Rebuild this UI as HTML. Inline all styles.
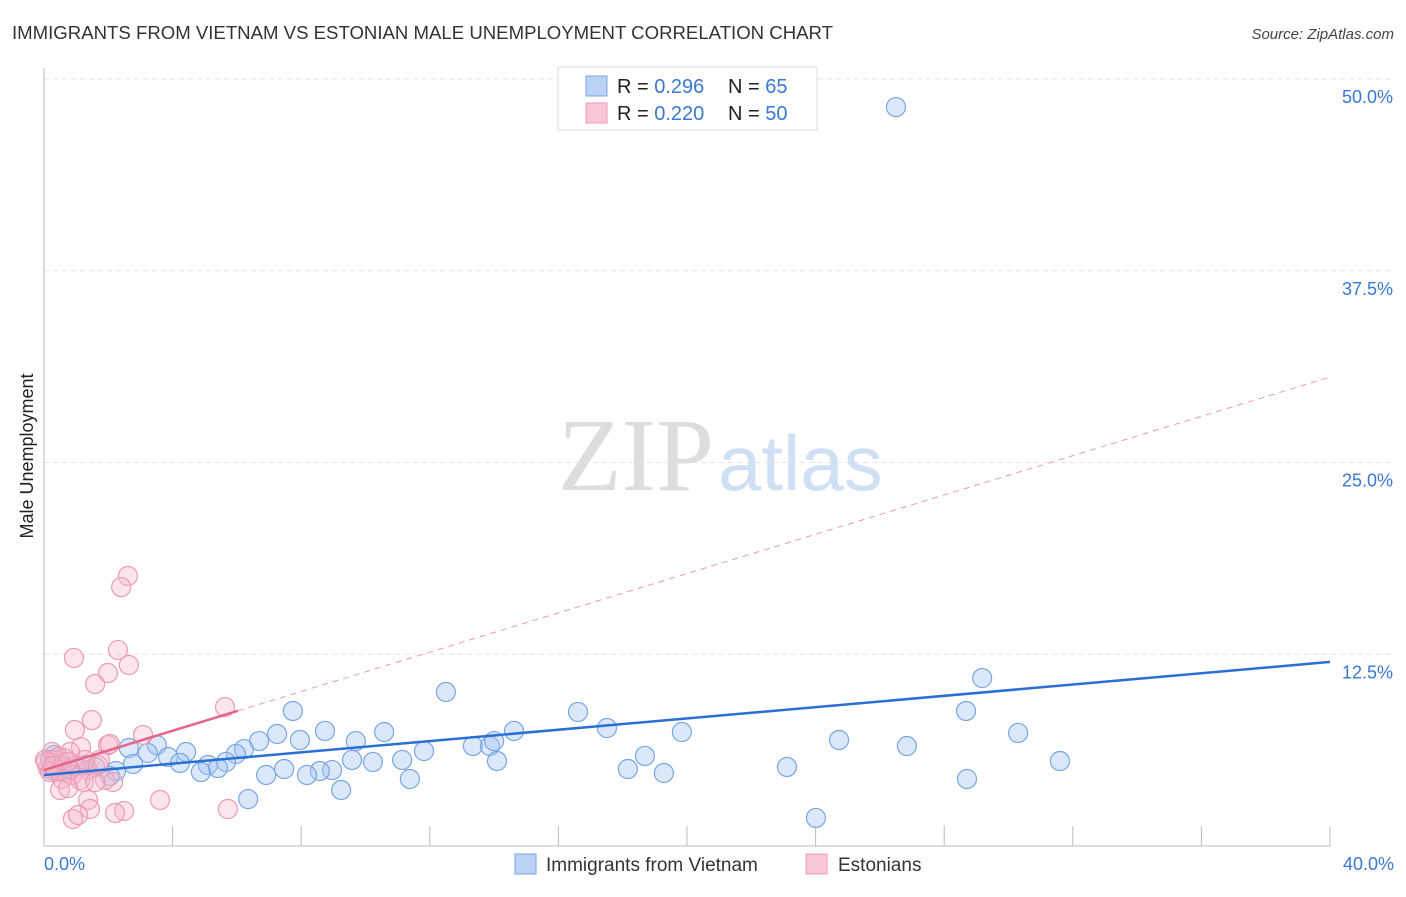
<!DOCTYPE html>
<html><head><meta charset="utf-8"><style>
body{margin:0;background:#fff;font-family:"Liberation Sans",sans-serif}
svg text{font-family:"Liberation Sans",sans-serif}
</style></head><body>
<svg id="c" width="1406" height="892" xmlns="http://www.w3.org/2000/svg">
<text x="12" y="39" font-size="18.6" fill="#333">IMMIGRANTS FROM VIETNAM VS ESTONIAN MALE UNEMPLOYMENT CORRELATION CHART</text>
<text x="1394" y="39" font-size="15" fill="#444" font-style="italic" text-anchor="end">Source: ZipAtlas.com</text>
<text x="33" y="456" font-size="18" fill="#222" text-anchor="middle" transform="rotate(-90 33 456)">Male Unemployment</text>
<text x="714" y="490" font-size="104" fill="#ddd" text-anchor="end" style="font-family:'Liberation Serif',serif">ZIP</text>
<text x="718" y="490" font-size="78" fill="#cfe0f5">atlas</text>
<g id="grid"></g><g id="marks"></g>
<g>
<rect x="558" y="67" width="259" height="63" fill="#fff" stroke="#ddd"/>
<rect x="586" y="76" width="21" height="20" fill="#b9d2f5" stroke="#7ba7e2"/>
<rect x="586" y="103" width="21" height="20" fill="#f9c6d5" stroke="#eb9cb4"/>
<text x="617" y="93" font-size="20" fill="#222">R = <tspan fill="#3a78d4">0.296</tspan><tspan x="728">N = </tspan><tspan fill="#3a78d4">65</tspan></text>
<text x="617" y="120" font-size="20" fill="#222">R = <tspan fill="#3a78d4">0.220</tspan><tspan x="728">N = </tspan><tspan fill="#3a78d4">50</tspan></text>
</g>
<g>
<rect x="515" y="854" width="21" height="20" fill="#b9d2f5" stroke="#7ba7e2"/>
<text x="546" y="871" font-size="19" fill="#333">Immigrants from Vietnam</text>
<rect x="806" y="854" width="21" height="20" fill="#f9c6d5" stroke="#eb9cb4"/>
<text x="838" y="871" font-size="19" fill="#333">Estonians</text>
</g>
</svg>
<script>
const yTicks=[12.5,25,37.5,50];
const yTickLabels=["12.5%","25.0%","37.5%","50.0%"];
const xTicks=[0,4,8,12,16,20,24,28,32,36,40];
const xEndLabels=["0.0%","40.0%"];
const blueX=[26.5,12.5,29.18,7.74,16.61,28.68,8.74,10.58,14.62,17.51,19.84,30.3,24.73,26.84,9.7,7.25,6.69,7.96,6.22,5.97,4.42,3.51,2.64,3.23,3.86,4.23,5.1,5.66,5.41,4.88,2.77,2.24,1.59,2.05,1.28,0.81,0.5,0.25,13.34,13.87,14.0,11.82,10.23,11.14,9.58,8.96,8.58,8.18,7.47,6.91,14.09,18.69,18.16,19.28,23.11,31.6,28.71,11.38,9.24,6.35,24.01,0.31,0.19,0.56,0.96];
const blueY=[48.17,10.04,10.95,8.8,8.74,8.8,7.5,7.43,7.5,7.69,7.43,7.37,6.91,6.52,6.84,7.3,6.84,6.91,6.32,6.0,6.13,6.58,6.39,6.06,5.8,5.41,5.28,5.48,5.08,4.82,5.35,4.89,5.15,4.56,5.28,5.02,4.89,4.95,6.52,6.52,6.84,6.19,5.48,5.61,5.61,4.95,4.89,4.63,5.02,4.63,5.54,5.87,5.02,4.76,5.15,5.54,4.37,4.37,3.65,3.06,1.83,5.93,5.61,5.41,5.22];
const pinkX=[2.61,2.4,0.93,2.64,2.3,1.99,1.59,1.49,5.63,0.96,3.08,1.15,1.99,2.05,0.81,0.25,0.62,1.74,0.5,0.12,0.4,0.68,1.06,1.37,0.87,0.06,0.56,1.12,1.9,2.15,1.24,0.5,0.75,1.59,1.37,3.61,1.43,2.49,2.21,5.72,0.9,1.06,0.34,0.19,0.44,0.72,1.28,0.03,0.28,1.68];
const pinkY=[17.6,16.88,12.26,11.8,12.78,11.28,10.56,8.21,9.06,7.56,7.24,6.45,6.58,6.65,6.13,6.13,5.74,5.61,5.28,5.08,4.95,4.82,5.08,4.95,4.63,5.48,4.37,4.3,4.3,4.17,4.17,3.65,3.78,4.17,3.0,3.0,2.41,2.28,2.15,2.41,1.76,2.02,5.61,4.82,5.8,5.48,5.61,5.61,5.22,5.28];
const blueTrend=[4.63,12.0];
const pinkTrend=[4.95,30.57];
const pinkSolidEnd=6.03;
const NS="http://www.w3.org/2000/svg";
const X=v=>44+v*(1286/40), Y=v=>846-v*15.34;
function mk(t,a,p){const e=document.createElementNS(NS,t);for(const k in a)e.setAttribute(k,a[k]);p.appendChild(e);return e;}
const g=document.getElementById('grid'), m=document.getElementById('marks');
yTicks.forEach((t,i)=>{
 const l=mk('line',{x1:44,x2:1394,y1:Y(t),y2:Y(t),stroke:'#e4e4e4','stroke-dasharray':'5,4'},g);
 
 
 const tx=mk('text',{x:1393,y:Y(t)+24,'font-size':18,fill:'#3a78d4','text-anchor':'end'},g);
 tx.textContent=yTickLabels[i];
 
 
});
const ax=mk('line',{x1:44,x2:44,y1:68,y2:846,stroke:'#bbb'},g);


const bx=mk('line',{x1:44,x2:1330,y1:846,y2:846,stroke:'#bbb'},g);


xTicks.forEach(t=>{const l=mk('line',{x1:X(t),x2:X(t),y1:826,y2:846,stroke:'#bbb'},g);
 
 });
[[0,'start',44],[40,'end',1394]].forEach((d,i)=>{const tx=mk('text',{x:d[2],y:870,'font-size':18,fill:'#3a78d4','text-anchor':d[1]},g);tx.textContent=xEndLabels[i];
 
 });
blueX.forEach((v,i)=>{const c=mk('circle',{cx:X(v),cy:Y(blueY[i]),r:9.5,fill:'rgba(165,198,242,0.4)',stroke:'#78a6e4','stroke-width':1.2},m);
 
 });
pinkX.forEach((v,i)=>{const c=mk('circle',{cx:X(v),cy:Y(pinkY[i]),r:9.5,fill:'rgba(247,180,202,0.35)',stroke:'#ec9ab3','stroke-width':1.2},m);
 
 });
const pAt=x=>pinkTrend[0]+(pinkTrend[1]-pinkTrend[0])*x/40;
const pd=mk('line',{x1:X(pinkSolidEnd),y1:Y(pAt(pinkSolidEnd)),x2:X(40),y2:Y(pinkTrend[1]),stroke:'#e99ab2','stroke-width':1,'stroke-dasharray':'6,5'},m);


const ps=mk('line',{x1:X(0),y1:Y(pinkTrend[0]),x2:X(pinkSolidEnd),y2:Y(pAt(pinkSolidEnd)),stroke:'#e8638c','stroke-width':2.5},m);


const bl=mk('line',{x1:X(0),y1:Y(blueTrend[0]),x2:X(40),y2:Y(blueTrend[1]),stroke:'#2a6fd6','stroke-width':2.5},m);


</script>
</body></html>
